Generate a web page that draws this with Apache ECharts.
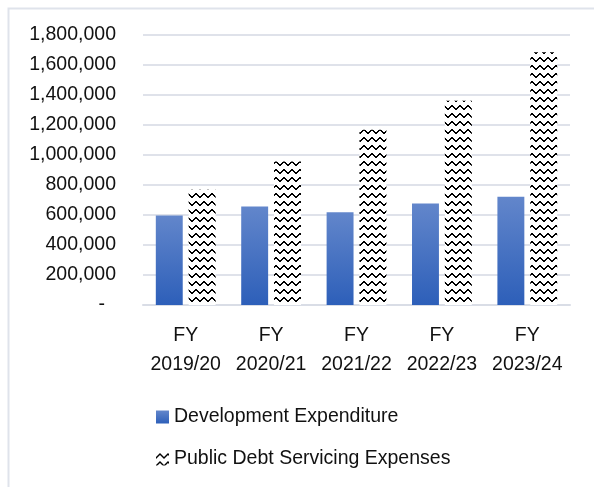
<!DOCTYPE html>
<html>
<head>
<meta charset="utf-8">
<script src="https://cdn.jsdelivr.net/npm/echarts@6/dist/echarts.min.js"></script>
<style>html,body{margin:0;padding:0;background:#fff;}#c{width:594px;height:487px;}</style>
</head>
<body>
<div id="c"></div>
<script>
const categories = ['FY\n2019/20', 'FY\n2020/21', 'FY\n2021/22', 'FY\n2022/23', 'FY\n2023/24'];
const devExpenditure = [596000, 656000, 618000, 676000, 722000];
const debtServicing = [769000, 957000, 1168000, 1361000, 1685000];
const seriesNames = ['Development Expenditure', 'Public Debt Servicing Expenses'];

function wavePattern() {
  const c = document.createElement('canvas');
  c.width = 8; c.height = 8;
  const ctx = c.getContext('2d');
  ctx.fillStyle = '#fff';
  ctx.fillRect(0, 0, 8, 8);
  ctx.fillStyle = '#000';
  const ys = [3, 2, 1, 0, 0, 1, 2, 3];
  ys.forEach((y, x) => ctx.fillRect(x, y + 1, 1, 2));
  return c;
}

const font = '"Liberation Sans", Arial, sans-serif';
const fs = 19.5;
const chart = echarts.init(document.getElementById('c'));
chart.setOption({
  animation: false,
  backgroundColor: '#fff',
  graphic: [{
    type: 'rect', left: 6, top: 6,
    shape: { width: 620, height: 520 },
    style: { fill: 'none', stroke: '#dfe3eb', lineWidth: 2 },
    silent: true
  }],
  grid: { left: 143, right: 24, top: 35, bottom: 182 },
  legend: {
    orient: 'vertical', left: 156, top: 407, padding: 0,
    itemWidth: 13, itemHeight: 13, itemGap: 22,
    textStyle: { fontFamily: font, fontSize: fs, color: '#111', lineHeight: 20 },
    data: seriesNames.map(n => ({ name: n, icon: 'rect' }))
  },
  xAxis: {
    type: 'category', data: categories,
    axisLine: { lineStyle: { color: '#d9dde6', width: 2 } },
    axisTick: { show: false },
    axisLabel: { interval: 0, fontFamily: font, fontSize: fs, color: '#111', lineHeight: 29, margin: 16 }
  },
  yAxis: {
    type: 'value', min: 0, max: 1800000, interval: 200000,
    axisLine: { show: false }, axisTick: { show: false },
    splitLine: { lineStyle: { color: '#dfe2ea', width: 2 } },
    axisLabel: {
      fontFamily: font, fontSize: fs, color: '#111', margin: 27,
      formatter: v => v === 0 ? '{d|-}' : v.toLocaleString('en-US'),
      rich: { d: { fontFamily: font, fontSize: fs, color: '#111', padding: [0, 11, 0, 0] } }
    }
  },
  series: [
    {
      name: seriesNames[0], type: 'bar', data: devExpenditure,
      barGap: '22%', barCategoryGap: '30%',
      itemStyle: {
        color: new echarts.graphic.LinearGradient(0, 0, 0, 1, [
          { offset: 0, color: '#6286cb' },
          { offset: 1, color: '#2d5fb9' }
        ])
      }
    },
    {
      name: seriesNames[1], type: 'bar', data: debtServicing,
      itemStyle: { color: { image: wavePattern(), repeat: 'repeat' } }
    }
  ]
});
</script>
</body>
</html>
